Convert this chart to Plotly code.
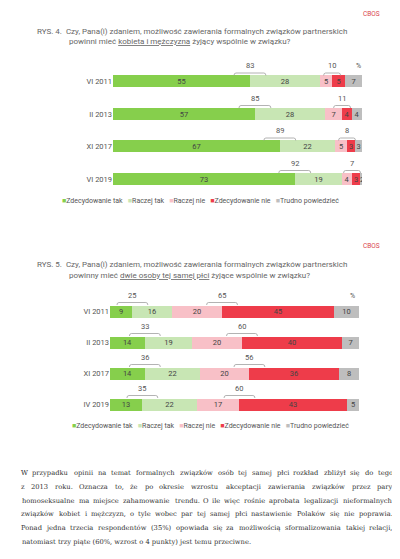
import plotly.graph_objects as go

W, H = 400, 559

# ---------------- data ----------------
categories = ["Zdecydowanie tak", "Raczej tak", "Raczej nie", "Zdecydowanie nie", "Trudno powiedzieć"]
colors = ["#86CF4C", "#C8E6B4", "#F8C0C7", "#EE3C4A", "#BEBEBE"]

rows1 = ["VI 2011", "II 2013", "XI 2017", "VI 2019"]
z_tak1 = [55, 57, 67, 73]
r_tak1 = [28, 28, 22, 19]
r_nie1 = [5, 7, 5, 4]
z_nie1 = [5, 4, 3, 3]
trudno1 = [7, 4, 3, 2]
yes_tot1 = [83, 85, 89, 92]
no_tot1 = [10, 11, 8, 7]

rows2 = ["VI 2011", "II 2013", "XI 2017", "IV 2019"]
z_tak2 = [9, 14, 14, 13]
r_tak2 = [16, 19, 22, 22]
r_nie2 = [20, 20, 20, 17]
z_nie2 = [45, 40, 36, 43]
trudno2 = [10, 7, 8, 5]
yes_tot2 = [25, 33, 36, 35]
no_tot2 = [65, 60, 56, 60]

title1_l1 = "RYS. 4.  Czy, Pana(i) zdaniem, możliwość zawierania formalnych związków partnerskich"
title1_l2 = "powinni mieć <u>kobieta i mężczyzna</u> żyjący wspólnie w związku?"
title2_l1 = "RYS. 5.  Czy, Pana(i) zdaniem, możliwość zawierania formalnych związków partnerskich"
title2_l2 = "powinny mieć <u>dwie osoby tej samej płci</u> żyjące wspólnie w związku?"

paragraph = [
    "W przypadku opinii na temat formalnych związków osób tej samej płci rozkład zbliżył się do tego",
    "z 2013 roku. Oznacza to, że po okresie wzrostu akceptacji zawierania związków przez pary",
    "homoseksualne ma miejsce zahamowanie trendu. O ile więc rośnie aprobata legalizacji nieformalnych",
    "związków kobiet i mężczyzn, o tyle wobec par tej samej płci nastawienie Polaków się nie poprawia.",
    "Ponad jedna trzecia respondentów (35%) opowiada się za możliwością sformalizowania takiej relacji,",
    "natomiast trzy piąte (60%, wzrost o 4 punkty) jest temu przeciwne.",
]

SANS = "Roboto"
TXT = "#555555"

def px(x):
    return x / W

def py(y):
    return 1 - y / H

fig = go.Figure()
shapes = []
annotations = []

charts = [
    dict(rows=rows1, series=[z_tak1, r_tak1, r_nie1, z_nie1, trudno1], yes=yes_tot1, no=no_tot1,
         xa="x", ya="y", xpx=(105, 354), c0=73.5, step=32.5, neg_half=3.4, pos_half=6.4,
         pct_x=98.4, legend_cx=192, legend_y=193, cbos_y=6,
         t1=title1_l1, t2=title1_l2, t1y=24, t2y=34),
    dict(rows=rows2, series=[z_tak2, r_tak2, r_nie2, z_nie2, trudno2], yes=yes_tot2, no=no_tot2,
         xa="x2", ya="y2", xpx=(102, 351), c0=303, step=31, neg_half=6.2, pos_half=6.2,
         pct_x=97.2, legend_cx=202, legend_y=418, cbos_y=238,
         t1=title2_l1, t2=title2_l2, t1y=256, t2y=267),
]

for ci, ch in enumerate(charts):
    n = len(ch["rows"])
    ypos = list(range(n))
    bar_w = 12 / ch["step"]
    for k, (cat, col, vals) in enumerate(zip(categories, colors, ch["series"])):
        fig.add_trace(go.Bar(
            orientation="h", x=vals, y=ypos, name=cat,
            xaxis=ch["xa"], yaxis=ch["ya"],
            marker=dict(color=col, line=dict(width=0)),
            width=bar_w,
            text=[str(v) for v in vals], textposition="inside", insidetextanchor="middle",
            textangle=0, constraintext="none",
            textfont=dict(family=SANS, size=7.5, color="#444444"),
            showlegend=False, hoverinfo="skip",
        ))
    # brackets and totals
    u = 1.0 / ch["step"]  # row units per pixel
    for i in range(n):
        pos_c = ch["series"][0][i]
        neg_c = ch["series"][0][i] + ch["series"][1][i] + ch["series"][2][i]
        for cx, half, tot in [(pos_c, ch["pos_half"], ch["yes"][i]), (neg_c, ch["neg_half"], ch["no"][i])]:
            yl = i - 8.5 * u
            yd = i - 6.0 * u
            x0, x1 = cx - half, cx + half
            d = 0.8
            path = (f"M {x0},{yd} Q {x0},{yl} {x0 + d},{yl} L {x1 - d},{yl} "
                    f"Q {x1},{yl} {x1},{yd}")
            shapes.append(dict(type="path", path=path, xref=ch["xa"], yref=ch["ya"],
                               line=dict(color="#A0A0A0", width=0.8)))
            annotations.append(dict(x=cx, y=i - 15.5 * u, xref=ch["xa"], yref=ch["ya"],
                                    text=str(tot), showarrow=False,
                                    font=dict(family=SANS, size=7.5, color=TXT)))
    annotations.append(dict(x=ch["pct_x"], y=-15.5 * u, xref=ch["xa"], yref=ch["ya"],
                            text="%", showarrow=False,
                            font=dict(family=SANS, size=7, color=TXT)))
    # legend line
    leg = "   ".join(f'<span style="color:{c}">■</span>{name}' for name, c in zip(categories, colors))
    annotations.append(dict(x=px(ch["legend_cx"]), y=py(ch["legend_y"]), xref="paper", yref="paper",
                            text=leg, showarrow=False, xanchor="center", yanchor="middle",
                            font=dict(family=SANS, size=7, color=TXT)))
    # CBOS
    annotations.append(dict(x=px(363), y=py(ch["cbos_y"]), xref="paper", yref="paper",
                            text="CBOS", showarrow=False, xanchor="center", yanchor="middle",
                            font=dict(family=SANS, size=6.5, color="#D9434E")))
    # titles
    annotations.append(dict(x=px(27), y=py(ch["t1y"]), xref="paper", yref="paper",
                            text=ch["t1"], showarrow=False, xanchor="left", yanchor="middle",
                            font=dict(family=SANS, size=8, color="#666666")))
    annotations.append(dict(x=px(59), y=py(ch["t2y"]), xref="paper", yref="paper",
                            text=ch["t2"], showarrow=False, xanchor="left", yanchor="middle",
                            font=dict(family=SANS, size=8, color="#666666")))

# ---------------- paragraph, justified word by word ----------------
# approximate advance widths (em) of DejaVu Serif glyphs
_CW = {
    " ": 0.318, "a": 0.596, "b": 0.640, "c": 0.562, "d": 0.640, "e": 0.592, "f": 0.372,
    "g": 0.640, "h": 0.644, "i": 0.320, "j": 0.306, "k": 0.613, "l": 0.320, "m": 0.956,
    "n": 0.644, "o": 0.604, "p": 0.640, "q": 0.640, "r": 0.478, "s": 0.509, "t": 0.402,
    "u": 0.644, "v": 0.569, "w": 0.857, "x": 0.569, "y": 0.569, "z": 0.525,
    "ą": 0.596, "ę": 0.592, "ó": 0.604, "ś": 0.509, "ż": 0.525, "ź": 0.525, "ć": 0.562,
    "ł": 0.330, "ń": 0.644,
    "W": 1.03, "O": 0.787, "P": 0.673,
    ".": 0.318, ",": 0.318, "(": 0.390, ")": 0.390, "%": 0.950,
}

def text_em(s):
    return sum(_CW.get(ch, 0.636 if ch.isdigit() else 0.6) for ch in s) * 1.03

XL, XR = 13, 385
MIN_GAP = 3.4
# font size: largest (<= 7.5) that keeps every justified line's gaps >= MIN_GAP
PF_SIZE = 7.5
for line in paragraph[:-1]:
    words = line.split(" ")
    em = sum(text_em(w) for w in words)
    PF_SIZE = min(PF_SIZE, (XR - XL - MIN_GAP * (len(words) - 1)) / em)
PF = dict(family="DejaVu Serif", size=PF_SIZE, color="#333333")
line_y0, line_step = 465, 13.8
for li, line in enumerate(paragraph):
    y = py(line_y0 + li * line_step)
    if li == len(paragraph) - 1:
        annotations.append(dict(x=px(XL - 1), y=y, xref="paper", yref="paper", text=line,
                                showarrow=False, xanchor="left", yanchor="middle", font=PF))
        continue
    words = line.split(" ")
    widths = [text_em(w) * PF_SIZE for w in words]
    gap = (XR - XL - sum(widths)) / (len(words) - 1)
    x = XL
    for w, wd in zip(words, widths):
        annotations.append(dict(x=px(x + wd / 2), y=y, xref="paper", yref="paper", text=w,
                                showarrow=False, xanchor="center", yanchor="middle", font=PF))
        x += wd + gap

def ydom(ch):
    top = ch["c0"] - ch["step"] / 2
    bot = ch["c0"] + (len(ch["rows"]) - 1) * ch["step"] + ch["step"] / 2
    return [py(bot), py(top)]

axis_common = dict(showgrid=False, zeroline=False, showline=False, fixedrange=True)
fig.update_layout(
    width=W, height=H, margin=dict(l=0, r=0, t=0, b=0),
    paper_bgcolor="white", plot_bgcolor="white",
    barmode="stack", bargap=0, showlegend=False,
    uniformtext=dict(minsize=7.5, mode="show"),
    xaxis=dict(domain=[px(charts[0]["xpx"][0]), px(charts[0]["xpx"][1])], range=[0, 100],
               visible=False, **axis_common),
    yaxis=dict(domain=ydom(charts[0]), range=[3.5, -0.5], anchor="x",
               tickmode="array", tickvals=list(range(4)), ticktext=rows1, ticks="",
               tickfont=dict(family=SANS, size=7.5, color=TXT), **axis_common),
    xaxis2=dict(domain=[px(charts[1]["xpx"][0]), px(charts[1]["xpx"][1])], range=[0, 100],
                visible=False, anchor="y2", **axis_common),
    yaxis2=dict(domain=ydom(charts[1]), range=[3.5, -0.5], anchor="x2",
                tickmode="array", tickvals=list(range(4)), ticktext=rows2, ticks="",
                tickfont=dict(family=SANS, size=7.5, color=TXT), **axis_common),
    shapes=shapes, annotations=annotations,
)

fig.write_html("out.html")
